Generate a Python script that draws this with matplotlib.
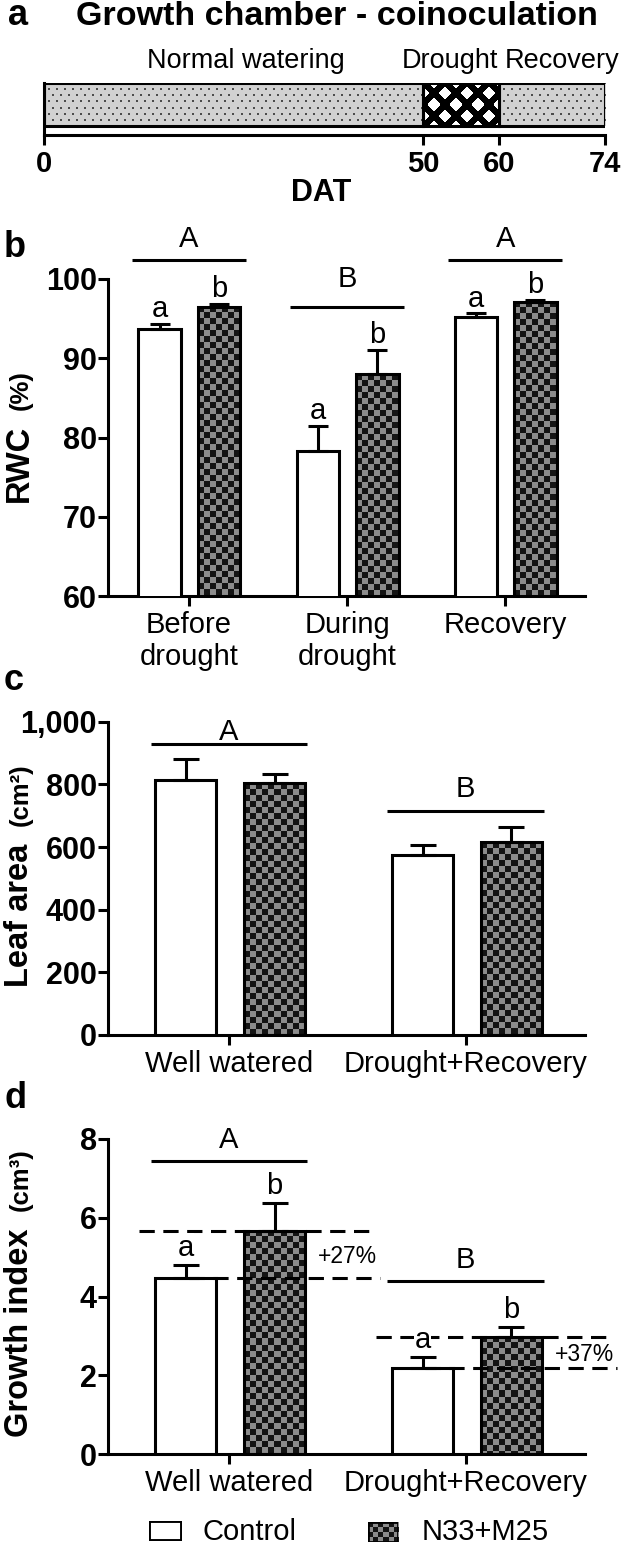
import numpy as np
import matplotlib
matplotlib.use("Agg")
import matplotlib.pyplot as plt
from matplotlib.ticker import FuncFormatter

# -------------------
# 폰트 / 기본 설정
# -------------------
plt.rcParams['font.family'] = ['Liberation Sans', 'DejaVu Sans']
plt.rcParams['axes.linewidth'] = 2.2

# -------------------
# 데이터
# -------------------
# a) 실험 일정 (DAT)
phase_names = ['Normal watering', 'Drought', 'Recovery']
phase_start = [0, 50, 60]
phase_end = [50, 60, 74]
phase_kind = ['stipple', 'diamond', 'stipple']
dat_ticks = [0, 50, 60, 74]

# b) RWC (%)
rwc_groups = ['Before\ndrought', 'During\ndrought', 'Recovery']
rwc_ctrl = [93.7, 78.3, 95.2]
rwc_ctrl_err = [0.6, 3.1, 0.45]
rwc_trt = [96.5, 88.0, 97.1]
rwc_trt_err = [0.35, 3.0, 0.2]
rwc_ctrl_sig = ['a', 'a', 'a']
rwc_trt_sig = ['b', 'b', 'b']
rwc_group_sig = ['A', 'B', 'A']
rwc_group_line = [102.4, 96.5, 102.4]
rwc_group_text = [104.0, 99.0, 104.0]

# c) Leaf area (cm2)
la_groups = ['Well watered', 'Drought+Recovery']
la_ctrl = [815, 575]
la_ctrl_err = [66, 30]
la_trt = [804, 616]
la_trt_err = [30, 49]
la_group_sig = ['A', 'B']
la_group_line = [930, 716]
la_group_text = [942, 760]

# d) Growth index (cm3)
gi_groups = ['Well watered', 'Drought+Recovery']
gi_ctrl = [4.46, 2.18]
gi_ctrl_err = [0.34, 0.29]
gi_trt = [5.67, 2.98]
gi_trt_err = [0.71, 0.25]
gi_ctrl_sig = ['a', 'a']
gi_trt_sig = ['b', 'b']
gi_group_sig = ['A', 'B']
gi_group_line = [7.45, 4.40]
gi_group_text = [7.77, 4.72]
gi_pct = ['+27%', '+37%']

legend_labels = ['Control', 'N33+M25']

# -------------------
# 그림 / 좌표 도우미
# -------------------
W, H = 624, 1544
fig = plt.figure(figsize=(W / 100, H / 100), dpi=100)


def fx(px):
    return px / W


def fy(px):
    return 1 - px / H


def axes_px(left, right, top, bottom):
    return [fx(left), fy(bottom), (right - left) / W, (bottom - top) / H]


# 채움 무늬 (픽셀 단위 텍스처)
def checker_rgb(w, h, cell=6):
    ii, jj = np.indices((h, w))
    m = ((ii // cell + jj // cell) % 2).astype(bool)
    img = np.zeros((h, w, 3))
    img[:] = 0.08
    img[m] = 0.55
    return img


def diamond_rgb(w, h, s=22, r=6.8):
    ii, jj = np.indices((h, w))
    y = ii - h / 2
    x = jj - w / 2 + s / 4
    p = (x + y) / s
    q = (x - y) / s
    d = s * np.maximum(np.abs(p - np.round(p)), np.abs(q - np.round(q)))
    img = np.zeros((h, w, 3))
    img[d < r] = 1.0
    return img


def stipple_rgb(w, h):
    ii, jj = np.indices((h, w))
    img = np.zeros((h, w, 3))
    img[:] = 0.82
    shift = (ii // 6 % 2) * 4
    m = (ii % 6 < 2) & ((jj + shift) % 8 < 2)
    img[m] = 0.3
    return img


def bar_texture(ax, patch, maker):
    xlim, ylim = ax.get_xlim(), ax.get_ylim()
    # 축 범위 안으로 잘라서 이미지 범위 결정
    x0 = max(patch.get_x(), xlim[0])
    x1 = min(patch.get_x() + patch.get_width(), xlim[1])
    y0 = max(patch.get_y(), ylim[0])
    y1 = min(patch.get_y() + patch.get_height(), ylim[1])
    (dx0, dy0), (dx1, dy1) = ax.transData.transform([(x0, y0), (x1, y1)])
    w = max(int(round(abs(dx1 - dx0))), 1)
    h = max(int(round(abs(dy1 - dy0))), 1)
    im = ax.imshow(maker(w, h), extent=(x0, x1, y0, y1), aspect='auto',
                   interpolation='nearest', origin='upper', zorder=2)
    im.set_clip_path(patch)
    ax.set_xlim(*xlim)
    ax.set_ylim(*ylim)


def style_axes(ax):
    for s in ['top', 'right']:
        ax.spines[s].set_visible(False)
    ax.tick_params(axis='both', direction='out', length=7, width=2.2)
    ax.tick_params(axis='y', pad=1, labelsize=22)
    ax.tick_params(axis='x', pad=4, labelsize=21)
    for lab in ax.get_yticklabels():
        lab.set_fontweight('bold')


def bar_panel(ax, ctrl, ctrl_err, trt, trt_err, width, off_c, off_t, capsize):
    x = np.arange(len(ctrl))
    b1 = ax.bar(x + off_c, ctrl, width, facecolor='white', edgecolor='black',
                linewidth=2.2, zorder=3)
    b2 = ax.bar(x + off_t, trt, width, facecolor='none', edgecolor='black',
                linewidth=2.2, zorder=3)
    for xx, m, e in [(x + off_c, ctrl, ctrl_err), (x + off_t, trt, trt_err)]:
        ax.errorbar(xx, m, yerr=[np.zeros(len(m)), e], fmt='none', ecolor='black',
                    elinewidth=2.2, capsize=capsize, capthick=2.2, zorder=4)
    return x, b1, b2


def group_sig(ax, x, letters, line_y, text_y, half=0.34):
    for xi, l, ly, ty in zip(x, letters, line_y, text_y):
        ax.plot([xi - half, xi + half], [ly, ly], color='black', lw=2.2,
                clip_on=False, solid_capstyle='butt')
        ax.text(xi, ty, l, ha='center', va='baseline', fontsize=21, clip_on=False)


def letter_sig(ax, xs, tops, letters, offset, box=False):
    for xi, t, l in zip(xs, tops, letters):
        kw = {}
        if box:
            kw['bbox'] = dict(facecolor='white', edgecolor='none', pad=0.5)
        ax.annotate(l, xy=(xi, t), xytext=(0, offset), textcoords='offset points',
                    ha='center', va='baseline', fontsize=21, zorder=6,
                    annotation_clip=False, **kw)


def ylabel2(main, sub, y_main, y_sub):
    fig.text(fx(28), fy(y_main), main, rotation=90, rotation_mode='anchor',
             ha='left', va='baseline', fontsize=23.5, fontweight='bold')
    fig.text(fx(28), fy(y_sub), sub, rotation=90, rotation_mode='anchor',
             ha='center', va='baseline', fontsize=18.5, fontweight='bold')


# -------------------
# 패널 a : 일정 막대
# -------------------
fig.text(fx(8), fy(25), 'a', fontsize=26, fontweight='bold', va='baseline')
fig.text(fx(337), fy(25), 'Growth chamber - coinoculation', fontsize=24.5,
         fontweight='bold', ha='center', va='baseline')

ax_a = fig.add_axes(axes_px(43.8, 605, 83, 135))
ax_a.set_xlim(0, 74)
ax_a.set_ylim(0, 1)
makers = {'stipple': stipple_rgb, 'diamond': diamond_rgb}
for s, e, k in zip(phase_start, phase_end, phase_kind):
    p = ax_a.barh(0.5865, e - s, 0.827, left=s, facecolor='none',
                  edgecolor='black', linewidth=2.2, zorder=3)
    bar_texture(ax_a, p[0], makers[k])
for s in ['top', 'right']:
    ax_a.spines[s].set_visible(False)
ax_a.set_yticks([])
ax_a.set_xticks(dat_ticks)
ax_a.tick_params(axis='x', direction='out', length=7, width=2.2, pad=4,
                 labelsize=21)
for lab in ax_a.get_xticklabels():
    lab.set_fontweight('bold')
phase_text_x = [26.6, 53.6, 68.4]
for name, xt in zip(phase_names, phase_text_x):
    ax_a.text(xt, 1.29, name, ha='center', va='baseline', fontsize=19.5,
              transform=ax_a.get_xaxis_transform(), clip_on=False)
fig.text(fx(321), fy(201), 'DAT', fontsize=22, fontweight='bold',
         ha='center', va='baseline')

# -------------------
# 패널 b : RWC
# -------------------
fig.text(fx(4), fy(257), 'b', fontsize=26, fontweight='bold', va='baseline')
ax_b = fig.add_axes(axes_px(108, 585, 279, 596))
x, b1, b2 = bar_panel(ax_b, rwc_ctrl, rwc_ctrl_err, rwc_trt, rwc_trt_err,
                      0.269, -0.185, 0.19, 7.5)
ax_b.set_xlim(-0.512, 2.503)
ax_b.set_ylim(60, 100)
ax_b.set_yticks([60, 70, 80, 90, 100])
ax_b.set_xticks(x)
ax_b.set_xticklabels(rwc_groups, linespacing=1.15)
style_axes(ax_b)
for p in b2:
    bar_texture(ax_b, p, checker_rgb)
group_sig(ax_b, x, rwc_group_sig, rwc_group_line, rwc_group_text, half=0.36)
letter_sig(ax_b, x - 0.185, np.add(rwc_ctrl, rwc_ctrl_err), rwc_ctrl_sig, 5)
letter_sig(ax_b, x + 0.19, np.add(rwc_trt, rwc_trt_err), rwc_trt_sig, 5)
ylabel2('RWC', '(%)', 502, 390)

# -------------------
# 패널 c : 엽면적
# -------------------
fig.text(fx(4), fy(690), 'c', fontsize=26, fontweight='bold', va='baseline')
ax_c = fig.add_axes(axes_px(108, 585, 721.7, 1035))
x, b1, b2 = bar_panel(ax_c, la_ctrl, la_ctrl_err, la_trt, la_trt_err,
                      0.258, -0.182, 0.193, 9.5)
ax_c.set_xlim(-0.51, 1.504)
ax_c.set_ylim(0, 1000)
ax_c.set_yticks(range(0, 1001, 200))
ax_c.yaxis.set_major_formatter(FuncFormatter(lambda v, p: f'{v:,.0f}'))
ax_c.set_xticks(x)
ax_c.set_xticklabels(la_groups)
style_axes(ax_c)
for p in b2:
    bar_texture(ax_c, p, checker_rgb)
group_sig(ax_c, x, la_group_sig, la_group_line, la_group_text, half=0.33)
ylabel2('Leaf area', '(cm²)', 987, 795)

# -------------------
# 패널 d : 생장지수
# -------------------
fig.text(fx(4), fy(1108), 'd', fontsize=26, fontweight='bold', va='baseline')
ax_d = fig.add_axes(axes_px(108, 585, 1139, 1454))
x, b1, b2 = bar_panel(ax_d, gi_ctrl, gi_ctrl_err, gi_trt, gi_trt_err,
                      0.258, -0.182, 0.193, 9.5)
ax_d.set_xlim(-0.51, 1.504)
ax_d.set_ylim(0, 8)
ax_d.set_yticks([0, 2, 4, 6, 8])
ax_d.set_xticks(x)
ax_d.set_xticklabels(gi_groups)
style_axes(ax_d)
for p in b2:
    bar_texture(ax_d, p, checker_rgb)
group_sig(ax_d, x, gi_group_sig, gi_group_line, gi_group_text, half=0.33)
# 증가율 점선
for xi, c, t, pct in zip(x, gi_ctrl, gi_trt, gi_pct):
    ax_d.plot([xi - 0.38, xi + 0.62], [t, t], color='black', lw=2.2,
              dashes=(5, 2.8), clip_on=False, zorder=5)
    ax_d.plot([xi - 0.17, xi + 0.64], [c, c], color='black', lw=2.2,
              dashes=(5, 2.8), clip_on=False, zorder=5)
    ax_d.text(xi + 0.5, (c + t) / 2 - 0.05, pct, ha='center', va='center',
              fontsize=16.5, zorder=6, clip_on=False)
letter_sig(ax_d, x - 0.182, np.add(gi_ctrl, gi_ctrl_err), gi_ctrl_sig, 6.5, box=True)
letter_sig(ax_d, x + 0.193, np.add(gi_trt, gi_trt_err), gi_trt_sig, 6.5, box=True)
ylabel2('Growth index', '(cm³)', 1437, 1180)

# -------------------
# 범례
# -------------------
sw1 = fig.add_axes(axes_px(149, 182, 1521, 1541))
sw1.set_xlim(0, 1)
sw1.set_ylim(0, 1)
sw1.add_patch(plt.Rectangle((0, 0), 1, 1, facecolor='white', edgecolor='black',
                            linewidth=2.8))
sw1.axis('off')
sw2 = fig.add_axes(axes_px(368, 398, 1522, 1542))
sw2.set_xlim(0, 1)
sw2.set_ylim(0, 1)
rect = plt.Rectangle((0, 0), 1, 1, facecolor='none', edgecolor='black',
                     linewidth=2.0, zorder=3)
sw2.add_patch(rect)
bar_texture(sw2, rect, lambda w, h: checker_rgb(w, h, cell=5))
sw2.axis('off')
fig.text(fx(202), fy(1540), legend_labels[0], fontsize=21, va='baseline')
fig.text(fx(422), fy(1540), legend_labels[1], fontsize=21, va='baseline')

fig.savefig('out.png', dpi=100)
